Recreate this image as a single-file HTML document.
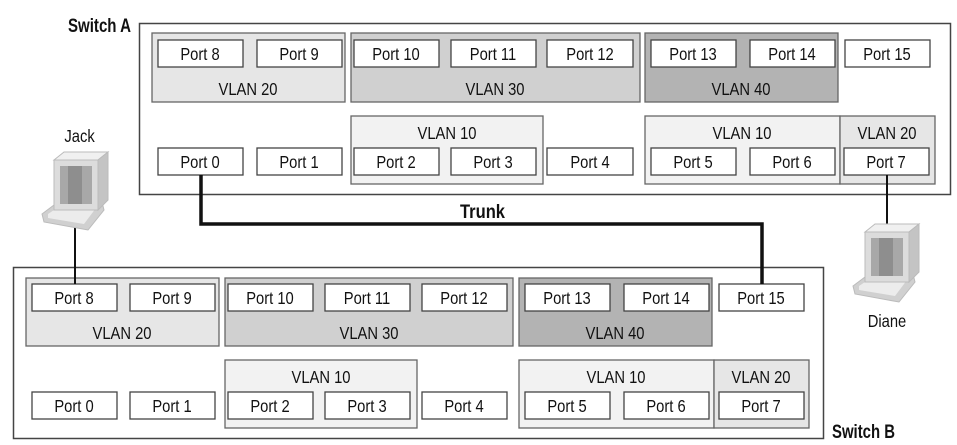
<!DOCTYPE html>
<html><head><meta charset="utf-8"><style>
html,body{margin:0;padding:0;background:#fff;}
svg{display:block}
text{font-family:"Liberation Sans Narrow","Liberation Sans",sans-serif;font-size:18px;fill:#111;transform-box:fill-box;transform-origin:center;transform:scaleX(0.82);}
.p{fill:#fff;stroke:#444;stroke-width:1.3}
.g{stroke:#666;stroke-width:1.3}
.b{font-weight:bold;font-size:19px;fill:#111;transform:none}
</style></head><body>
<svg width="957" height="445" viewBox="0 0 957 445" xmlns="http://www.w3.org/2000/svg">
<defs>
<g id="pc">
  <polygon points="0,62 16,50 60,50 62,58 46,78 2,70" fill="#d0d0d0" stroke="#bbb"/>
  <polygon points="6,62 18,54 54,56 42,72 6,66" fill="#ececec"/>
  <rect x="12" y="8" width="44" height="50" fill="#dcdcdc" stroke="#bbb"/>
  <polygon points="12,8 22,0 66,0 56,8" fill="#f0f0f0" stroke="#bbb"/>
  <polygon points="56,8 66,0 66,48 56,58" fill="#c4c4c4" stroke="#bbb"/>
  <rect x="18" y="14" width="32" height="38" fill="#a8a8a8"/>
  <rect x="26" y="14" width="14" height="38" fill="#8e8e8e"/>
</g>
</defs>

<!-- Switch A -->
<rect x="139.5" y="23.5" width="811" height="171" fill="#fff" stroke="#444" stroke-width="1.5"/>
<text x="68" y="32" class="b" textLength="63" lengthAdjust="spacingAndGlyphs">Switch A</text>
<rect x="152" y="33" width="193" height="69" fill="#e6e6e6" class="g"/>
<rect x="351" y="33" width="289" height="69" fill="#d0d0d0" class="g"/>
<rect x="645" y="33" width="193" height="69" fill="#b3b3b3" class="g"/>
<rect x="351" y="116" width="192" height="68" fill="#f2f2f2" class="g"/>
<rect x="645" y="116" width="195" height="68" fill="#f2f2f2" class="g"/>
<rect x="840" y="116" width="95" height="68" fill="#e6e6e6" class="g"/>
<g text-anchor="middle">
<text x="248" y="95">VLAN 20</text><text x="495" y="95">VLAN 30</text><text x="741" y="95">VLAN 40</text>
<text x="447" y="139">VLAN 10</text><text x="742" y="139">VLAN 10</text><text x="887" y="139">VLAN 20</text>
</g>
<g>
<rect x="158" y="40" width="85" height="27" class="p"/><rect x="257" y="40" width="85" height="27" class="p"/>
<rect x="354" y="40" width="85" height="27" class="p"/><rect x="451" y="40" width="85" height="27" class="p"/>
<rect x="547" y="40" width="86" height="27" class="p"/><rect x="651" y="40" width="85" height="27" class="p"/>
<rect x="750" y="40" width="85" height="27" class="p"/><rect x="845" y="40" width="85" height="27" class="p"/>
<rect x="158" y="148" width="85" height="27" class="p"/><rect x="257" y="148" width="85" height="27" class="p"/>
<rect x="354" y="148" width="85" height="27" class="p"/><rect x="451" y="148" width="85" height="27" class="p"/>
<rect x="547" y="148" width="86" height="27" class="p"/><rect x="651" y="148" width="85" height="27" class="p"/>
<rect x="750" y="148" width="85" height="27" class="p"/><rect x="844" y="148" width="85" height="27" class="p"/>
</g>
<g text-anchor="middle">
<text x="200" y="60">Port 8</text><text x="299" y="60">Port 9</text><text x="396" y="60">Port 10</text><text x="493" y="60">Port 11</text>
<text x="590" y="60">Port 12</text><text x="693" y="60">Port 13</text><text x="792" y="60">Port 14</text><text x="887" y="60">Port 15</text>
<text x="200" y="168">Port 0</text><text x="299" y="168">Port 1</text><text x="396" y="168">Port 2</text><text x="493" y="168">Port 3</text>
<text x="590" y="168">Port 4</text><text x="693" y="168">Port 5</text><text x="792" y="168">Port 6</text><text x="886" y="168">Port 7</text>
</g>

<!-- Switch B -->
<rect x="13.5" y="267.5" width="810" height="171" fill="#fff" stroke="#444" stroke-width="1.5"/>
<text x="832" y="438" class="b" textLength="63" lengthAdjust="spacingAndGlyphs">Switch B</text>
<rect x="26" y="278" width="193" height="68" fill="#e6e6e6" class="g"/>
<rect x="225" y="278" width="288" height="68" fill="#d0d0d0" class="g"/>
<rect x="519" y="278" width="193" height="68" fill="#b3b3b3" class="g"/>
<rect x="225" y="360" width="192" height="68" fill="#f2f2f2" class="g"/>
<rect x="519" y="360" width="195" height="68" fill="#f2f2f2" class="g"/>
<rect x="714" y="360" width="95" height="68" fill="#e6e6e6" class="g"/>
<g text-anchor="middle">
<text x="122" y="339">VLAN 20</text><text x="369" y="339">VLAN 30</text><text x="615" y="339">VLAN 40</text>
<text x="321" y="383">VLAN 10</text><text x="616" y="383">VLAN 10</text><text x="761" y="383">VLAN 20</text>
</g>
<g>
<rect x="32" y="284" width="85" height="27" class="p"/><rect x="130" y="284" width="85" height="27" class="p"/>
<rect x="228" y="284" width="85" height="27" class="p"/><rect x="325" y="284" width="85" height="27" class="p"/>
<rect x="422" y="284" width="85" height="27" class="p"/><rect x="525" y="284" width="85" height="27" class="p"/>
<rect x="624" y="284" width="85" height="27" class="p"/><rect x="719" y="284" width="85" height="27" class="p"/>
<rect x="32" y="392" width="85" height="27" class="p"/><rect x="130" y="392" width="85" height="27" class="p"/>
<rect x="228" y="392" width="85" height="27" class="p"/><rect x="325" y="392" width="85" height="27" class="p"/>
<rect x="422" y="392" width="85" height="27" class="p"/><rect x="525" y="392" width="85" height="27" class="p"/>
<rect x="624" y="392" width="85" height="27" class="p"/><rect x="719" y="392" width="85" height="27" class="p"/>
</g>
<g text-anchor="middle">
<text x="74" y="304">Port 8</text><text x="172" y="304">Port 9</text><text x="270" y="304">Port 10</text><text x="367" y="304">Port 11</text>
<text x="464" y="304">Port 12</text><text x="567" y="304">Port 13</text><text x="666" y="304">Port 14</text><text x="761" y="304">Port 15</text>
<text x="74" y="412">Port 0</text><text x="172" y="412">Port 1</text><text x="270" y="412">Port 2</text><text x="367" y="412">Port 3</text>
<text x="464" y="412">Port 4</text><text x="567" y="412">Port 5</text><text x="666" y="412">Port 6</text><text x="761" y="412">Port 7</text>
</g>

<!-- Trunk -->
<polyline points="201,175 201,224 762,224 762,284" fill="none" stroke="#111" stroke-width="3.5"/>
<text x="460" y="218" class="b" textLength="45" lengthAdjust="spacingAndGlyphs">Trunk</text>

<!-- Jack -->
<line x1="75" y1="226" x2="75" y2="284" stroke="#111" stroke-width="2"/>
<text x="61" y="142">Jack</text>
<use href="#pc" transform="translate(42,152)"/>

<!-- Diane -->
<line x1="887" y1="175" x2="887" y2="232" stroke="#111" stroke-width="2"/>
<use href="#pc" transform="translate(853,224)"/>
<text x="887" y="327" text-anchor="middle">Diane</text>
</svg>
</body></html>
